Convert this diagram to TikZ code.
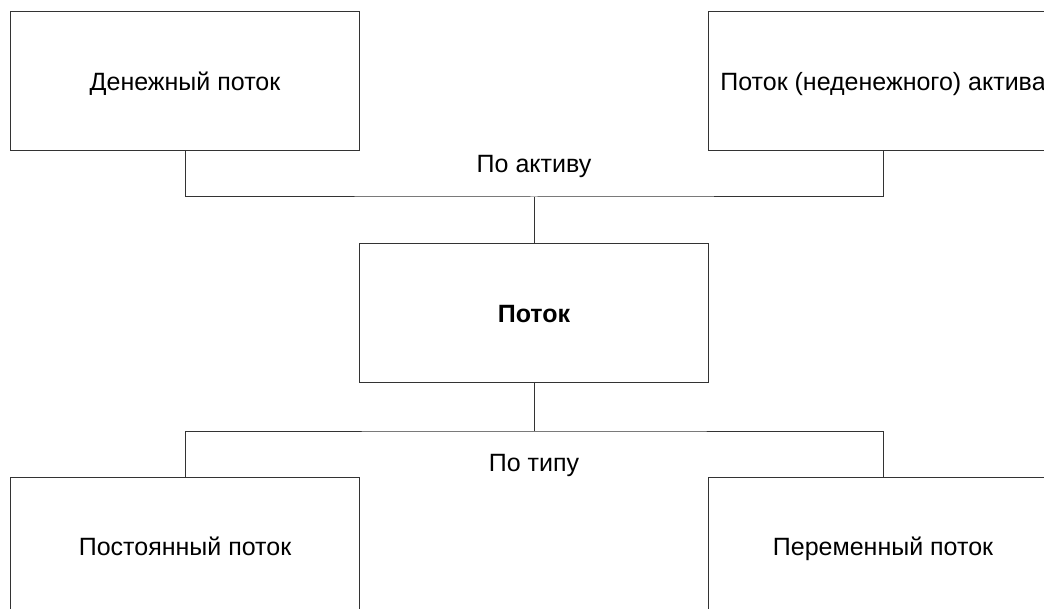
\documentclass[tikz,border=0pt]{standalone}
\usepackage{fontspec}
\setmainfont{Liberation Sans}
\begin{document}
\begin{tikzpicture}[x=1pt,y=-1pt,
  txt/.style={font=\fontsize{25}{29}\selectfont, text height=18pt, text depth=0pt},
  box/.style={txt, draw=black!80, line width=1pt, minimum width=349pt, minimum height=139pt,
    inner sep=0pt},
  link/.style={draw=black!80, line width=1pt},
  lbl/.style={txt, inner sep=0pt}]
  \useasboundingbox (0,0) rectangle (1044,609);
  \clip (0,0) rectangle (1044,609);
  % boxes
  \node[box] (cash)  at (185,81.5)    {Денежный поток};
  \node[box] (asset) at (883,81.5)    {Поток (неденежного) актива};
  \node[box] (flow)  at (534,313.5)   {\bfseries Поток};
  \node[box] (const) at (185,546.5)   {Постоянный поток};
  \node[box] (var)   at (883,546.5)   {Переменный поток};
  % junctions
  \coordinate (jtop) at (534,197);
  \coordinate (jbot) at (534,431);
  % connectors
  \draw[link] (cash.south) |- (jtop) -| (asset.south);
  \draw[link] (jtop) -- (flow.north);
  \draw[link] (flow.south) -- (jbot);
  \draw[link] (const.north) |- (jbot) -| (var.north);
  % labels
  \node[lbl] (byasset) at (534,164) {По активу};
  \node[lbl] (bytype)  at (534,462) {По типу};
\end{tikzpicture}
\end{document}
